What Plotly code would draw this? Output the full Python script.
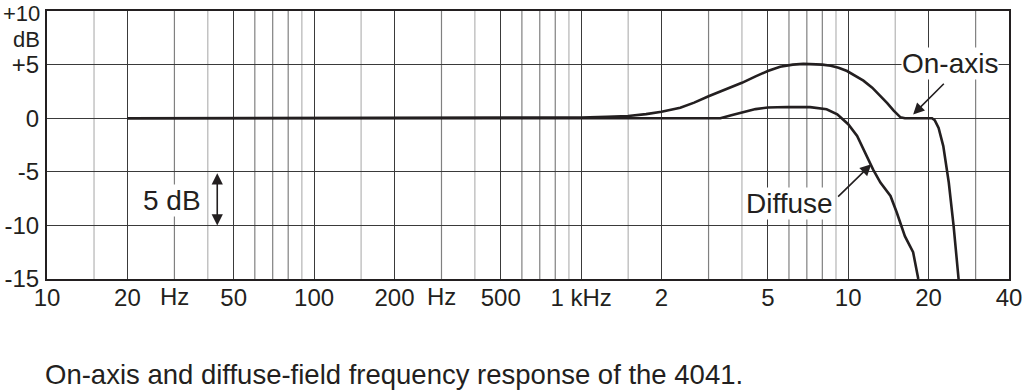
import math
import plotly.graph_objects as go

# ---- data ----
on_axis_freq = [20, 500, 800, 1000, 1250, 1500, 1750, 2000, 2350, 2650, 3000, 3500, 4000, 4500,
                5000, 5560, 6200, 6800, 7400, 8000, 8600, 9200, 9900, 10600, 11400, 12300,
                13200, 14000, 14800, 15300, 15700, 16300, 17500, 20600, 21100, 21800, 22700,
                23800, 24800, 25900]
on_axis_db = [0, 0, 0.02, 0.06, 0.12, 0.2, 0.38, 0.6, 0.98, 1.45, 2.05, 2.7, 3.3, 3.9,
              4.4, 4.8, 5.0, 5.07, 5.07, 5.0, 4.9, 4.7, 4.4, 4.0, 3.5, 2.85,
              2.1, 1.4, 0.7, 0.3, 0.08, 0, 0, 0, -0.2, -0.9, -2.6,
              -6.0, -10.0, -15]

diffuse_freq = [20, 3320, 3650, 4000, 4500, 5000, 5900, 7200, 8300, 9100, 10000, 10800,
                11700, 12400, 13200, 14400, 15200, 16300, 17500, 18300]
diffuse_db = [0, 0, 0.28, 0.55, 0.85, 1.0, 1.05, 1.03, 0.84, 0.37, -0.56, -1.65,
              -3.5, -4.8, -6.0, -7.25, -8.8, -11.0, -12.5, -15]

x_tick_vals = [10, 20, 50, 100, 200, 500, 1000, 2000, 5000, 10000, 20000, 40000]
x_tick_text = ["10", "20", "50", "100", "200", "500", "1 kHz", "2", "5", "10", "20", "40"]
hz_label_at = [20, 200]

y_tick_vals = [-15, -10, -5, 0, 5]
y_tick_text = ["-15", "-10", "-5", "0", "+5"]
y_top_text = "+10"

grid_mid = [30, 60, 70, 80, 300, 600, 700, 800, 3000, 6000, 7000, 8000, 30000]
grid_light = [15, 40, 90, 150, 400, 900, 1500, 4000, 9000, 15000]

# annotation anchors (data values)
on_axis_label = (24100, 5.13)
on_axis_arrow_tip = (17500, 0.35)
on_axis_arrow_tail = (23100, 3.35)
diffuse_label = (6010, -7.93)
diffuse_arrow_tip = (12200, -4.3)
diffuse_arrow_tail = (9050, -7.45)
span_arrow_freq = 43.4
span_arrow_db = (-5, -10)
span_label = (29.3, -7.7)

INK = "#231f20"
FONT = "Liberation Sans, Arial, sans-serif"

fig = go.Figure()
fig.add_trace(go.Scatter(x=diffuse_freq, y=diffuse_db, mode="lines",
                         line=dict(color=INK, width=2.6),
                         showlegend=False, hoverinfo="skip"))
fig.add_trace(go.Scatter(x=on_axis_freq, y=on_axis_db, mode="lines",
                         line=dict(color=INK, width=2.6),
                         showlegend=False, hoverinfo="skip"))

for f in grid_mid:
    fig.add_shape(type="line", xref="x", yref="paper", x0=f, x1=f, y0=0, y1=1,
                  line=dict(color="#808080", width=1.2), layer="below")
for f in grid_light:
    fig.add_shape(type="line", xref="x", yref="paper", x0=f, x1=f, y0=0, y1=1,
                  line=dict(color="#bababa", width=1.3), layer="below")

lg = math.log10

def arrow(tip, tail, both=False):
    fig.add_annotation(x=lg(tip[0]), y=tip[1], ax=lg(tail[0]), ay=tail[1],
                       xref="x", yref="y", axref="x", ayref="y", text="",
                       showarrow=True, arrowhead=2, arrowsize=1.4, arrowwidth=1.6,
                       arrowcolor=INK, arrowside="end+start" if both else "end",
                       startarrowhead=2, startarrowsize=1.4, standoff=0, startstandoff=0)

arrow(on_axis_arrow_tip, on_axis_arrow_tail)
arrow(diffuse_arrow_tip, diffuse_arrow_tail)
arrow((span_arrow_freq, span_arrow_db[1]), (span_arrow_freq, span_arrow_db[0]), both=True)

def label(pos, text, size=28):
    fig.add_annotation(x=lg(pos[0]), y=pos[1], xref="x", yref="y", text=text,
                       showarrow=False, bgcolor="white", borderpad=0,
                       font=dict(family=FONT, size=size, color=INK))

label(on_axis_label, "On-axis")
label(diffuse_label, "Diffuse")
label(span_label, "5 dB")

for f in hz_label_at:
    fig.add_annotation(x=lg(f), y=0, xref="x", yref="paper", text="Hz", showarrow=False,
                       xanchor="left", yanchor="middle", xshift=31, yshift=-17,
                       font=dict(family=FONT, size=24, color=INK))

fig.add_annotation(x=0, y=7.3, xref="paper", yref="y", text="dB", showarrow=False,
                   xanchor="right", yanchor="middle", xshift=-6, borderpad=0,
                   font=dict(family=FONT, size=22, color=INK))
fig.add_annotation(x=0, y=1, xref="paper", yref="paper", text=y_top_text, showarrow=False,
                   xanchor="right", yanchor="top", xshift=-6, yshift=11, borderpad=0,
                   font=dict(family=FONT, size=22, color=INK))

fig.add_annotation(x=-0.0042, y=-0.355, xref="paper", yref="paper",
                   text="On-axis and diffuse-field frequency response of the 4041.",
                   showarrow=False, xanchor="left", yanchor="middle",
                   font=dict(family=FONT, size=27.5, color=INK))

fig.update_xaxes(type="log", range=[1, lg(40000)], tickvals=x_tick_vals, ticktext=x_tick_text,
                 showgrid=True, gridcolor="#3a3a3a", gridwidth=1.4, zeroline=False,
                 showline=True, mirror=True, linecolor=INK, linewidth=2,
                 ticks="", ticklabelstandoff=-4, automargin=False,
                 tickfont=dict(family=FONT, size=24, color=INK))
fig.update_yaxes(range=[-15, 10], tickvals=y_tick_vals, ticktext=y_tick_text,
                 showgrid=True, gridcolor="#3a3a3a", gridwidth=1.4, zeroline=False,
                 showline=True, mirror=True, linecolor=INK, linewidth=2,
                 ticks="", ticklabelstandoff=1, automargin=False,
                 tickfont=dict(family=FONT, size=24, color=INK))

fig.update_layout(width=1024, height=392, margin=dict(l=47, r=15, t=11, b=113),
                  paper_bgcolor="white", plot_bgcolor="white", showlegend=False)

fig.write_html("out.html", config={"displayModeBar": False},
               post_script="document.body.style.margin='0';document.body.style.overflow='hidden';")
